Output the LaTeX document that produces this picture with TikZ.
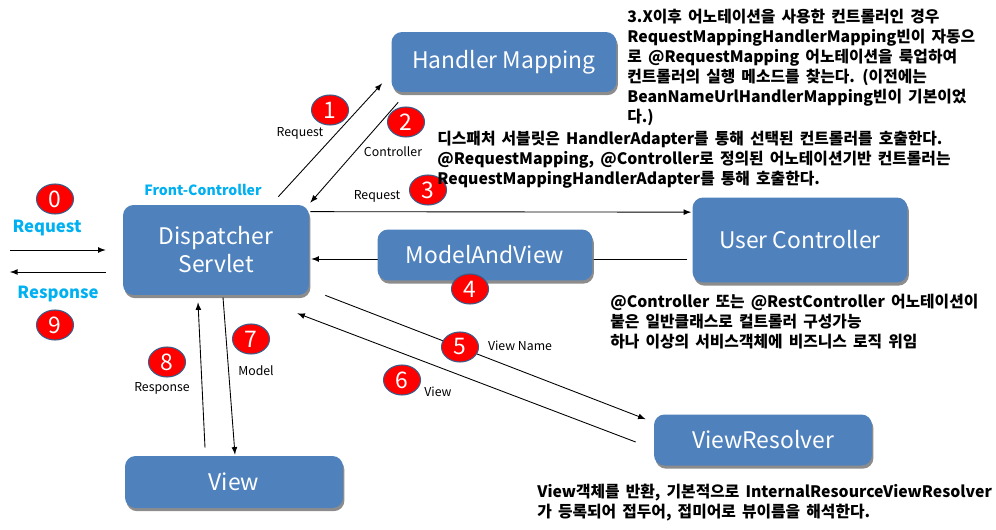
\documentclass[tikz,border=0pt]{standalone}
\usepackage{fontspec}
\setmainfont{Noto Sans CJK KR}
\newfontfamily\notefont[WordSpace=1.7]{Noto Sans CJK KR}
\usetikzlibrary{shapes.geometric,shadows,backgrounds}

\definecolor{boxblue}{HTML}{4F81BD}
\definecolor{fcblue}{HTML}{00B0F0}
\definecolor{ringblue}{HTML}{385D8A}

\tikzset{
  comp/.style={fill=boxblue, rounded corners=6pt, text=white, align=center,
    font=\fontsize{13}{16}\selectfont,
    drop shadow={shadow xshift=0.8pt, shadow yshift=-1.8pt, opacity=0.9}},
  num/.style={ellipse, fill=red, draw=ringblue, line width=0.6pt, text=white,
    minimum width=0.74cm, minimum height=0.6cm, inner sep=0pt,
    font=\fontsize{13}{13}\selectfont},
  lbl/.style={inner sep=0pt, font=\fontsize{7}{8}\selectfont},
  fclbl/.style={inner sep=0pt, text=fcblue, font=\fontsize{9.5}{11}\bfseries\selectfont},
  desc/.style={inner sep=0pt, anchor=north west, align=left,
    font=\notefont\fontsize{9}{11.4}\bfseries\selectfont},
  flow/.style={->, >=latex, line width=0.5pt}
}

\begin{document}
\begin{tikzpicture}[x=0.02cm, y=-0.02cm]
    \useasboundingbox (0,0) rectangle (996,530);

    % components
    \node[comp, minimum width=3.72cm, minimum height=1.8cm] (ds) at (216,250) {Dispatcher\\Servlet};
    \node[comp, minimum width=4.5cm, minimum height=1.2cm] (hm) at (504,62) {Handler Mapping};
    \node[comp, minimum width=4.3cm, minimum height=1.7cm] (uc) at (800,240) {User Controller};
    \node[comp, minimum width=4.3cm, minimum height=1.02cm] (mav) at (485,255) {ModelAndView};
    \node[comp, minimum width=4.36cm, minimum height=1.02cm] (vr) at (763,440) {ViewResolver};
    \node[comp, minimum width=4.36cm, minimum height=1.04cm] (vw) at (234,482) {View};

    \coordinate (cin) at (10,250);
    \coordinate (cout) at (10,272);

    % connectors
    \draw[flow] (cin) -- ([shift={(-17,0)}]ds.west);
    \draw[flow] ([shift={(-17,22)}]ds.west) -- (cout);
    \draw[flow] ([shift={(-31,-8)}]ds.north east) -- ([shift={(-9,-9)}]hm.south west);
    \draw[flow] ([shift={(7,10)}]hm.south west) -- ([shift={(1,-2)}]ds.north east);
    \draw[flow] ([shift={(1,7)}]ds.north east) -- ([shift={(-1,15)}]uc.north west);
    \begin{pgfonlayer}{background}
      \draw[flow] ([shift={(-5,19)}]uc.west) -- ([shift={(2,9)}]ds.east);
    \end{pgfonlayer}
    \draw[flow] ([shift={(16,0)}]ds.south east) -- ([shift={(-8,5)}]vr.north west);
    \draw[flow] ([shift={(-18,2)}]vr.west) -- ([shift={(-12,18)}]ds.south east);
    \draw[flow] ([shift={(7,2)}]ds.south) -- ([shift={(1,-1)}]vw.north);
    \draw[flow] ([shift={(-29,-8)}]vw.north) -- ([shift={(-18,7)}]ds.south);

    % step numbers
    \node[num] (n0) at (55,199) {0};
    \node[num] (n1) at (330,110) {1};
    \node[num] (n2) at (406,122) {2};
    \node[num] (n3) at (428,190) {3};
    \node[num] (n4) at (470,289) {4};
    \node[num] (n5) at (460,347) {5};
    \node[num] (n6) at (402,380) {6};
    \node[num] (n7) at (251,339) {7};
    \node[num] (n8) at (167,362) {8};
    \node[num] (n9) at (55,325) {9};

    % labels
    \node[fclbl] (lreq) at (47,228) {Request};
    \node[fclbl] (lres) at (58,294) {Response};
    \node[fclbl, font=\fontsize{8}{10}\bfseries\selectfont] (lfc) at (203,190) {Front-Controller};
    \node[lbl] (l1) at (300,133) {Request};
    \node[lbl] (l2) at (393,152) {Controller};
    \node[lbl] (l3) at (377,196) {Request};
    \node[lbl] (l5) at (520,346) {View Name};
    \node[lbl] (l6) at (438,392) {View};
    \node[lbl] (l7) at (256,371) {Model};
    \node[lbl] (l8) at (162,388) {Response};

    % notes
    \node[desc] (dhm) at (627,9) {3.X이후 어노테이션을 사용한 컨트롤러인 경우\\
      RequestMappingHandlerMapping빈이 자동으\\
      로 @RequestMapping 어노테이션을 룩업하여\\
      컨트롤러의 실행 메소드를 찾는다. (이전에는\\
      BeanNameUrlHandlerMapping빈이 기본이었\\
      다.)};
    \node[desc] (dha) at (437,131) {디스패처 서블릿은 HandlerAdapter를 통해 선택된 컨트롤러를 호출한다.\\
      @RequestMapping, @Controller로 정의된 어노테이션기반 컨트롤러는\\
      RequestMappingHandlerAdapter를 통해 호출한다.};
    \node[desc] (duc) at (610,294) {@Controller 또는 @RestController 어노테이션이\\
      붙은 일반클래스로 컬트롤러 구성가능\\
      하나 이상의 서비스객체에 비즈니스 로직 위임};
    \node[desc] (dvr) at (537,484) {View객체를 반환, 기본적으로 InternalResourceViewResolver\\
      가 등록되어 접두어, 접미어로 뷰이름을 해석한다.};
\end{tikzpicture}
\end{document}
